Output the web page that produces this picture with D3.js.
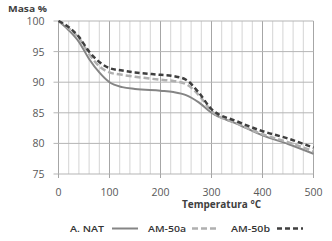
<!DOCTYPE html>
<html>
<head>
<meta charset="utf-8">
<script src="https://cdn.jsdelivr.net/npm/d3@7"></script>
<style>
  body { margin: 0; background: #fff; }
  text { font-family: "Open Sans", sans-serif; }
</style>
</head>
<body>
<div id="chart"></div>
<script>
"use strict";

// temperatures (°C) and mass (%)
var temps = [0, 20, 40, 60, 80, 100, 125, 150, 200, 225, 250, 275, 300, 350, 400, 450, 500];
var aNat  = [100, 98.5, 96.6, 93.8, 91.6, 90.0, 89.2, 88.9, 88.6, 88.4, 87.9, 86.7, 85.0, 83.2, 81.3, 79.9, 78.3];
var am50a = [100, 98.8, 97.2, 94.6, 92.6, 91.6, 91.2, 90.9, 90.4, 90.2, 89.7, 87.9, 85.3, 83.3, 81.5, 80.2, 78.7];
var am50b = [100, 99.0, 97.4, 95.0, 93.3, 92.3, 91.9, 91.6, 91.2, 91.0, 90.4, 88.3, 85.6, 83.6, 82.0, 80.8, 79.3];
var seriesNames = ["A. NAT", "AM-50a", "AM-50b"];
var xTicks = [0, 100, 200, 300, 400, 500];
var yTicks = [75, 80, 85, 90, 95, 100];

function draw() {
  var W = 332, H = 241;
  var plot = {left: 58.5, right: 313.5, top: 21, bottom: 174};

  var svg = d3.select("#chart").append("svg")
      .attr("width", W).attr("height", H);

  var x = d3.scaleLinear().domain([0, 500]).range([plot.left, plot.right]);
  var y = d3.scaleLinear().domain([75, 100]).range([plot.bottom, plot.top]);

  // vertical grid, minor every 20, darker every 100
  var g = svg.append("g");
  g.selectAll(".vgrid").data(d3.range(0, 501, 20))
    .join("line")
    .attr("x1", d => x(d)).attr("x2", d => x(d))
    .attr("y1", plot.top).attr("y2", plot.bottom)
    .attr("stroke", d => d % 100 === 0 ? "#a6a6a6" : "#d4d4d4")
    .attr("stroke-width", 1);

  // horizontal grid
  g.selectAll(".hgrid").data(yTicks)
    .join("line")
    .attr("x1", plot.left - 5).attr("x2", plot.right)
    .attr("y1", d => y(d)).attr("y2", d => y(d))
    .attr("stroke", "#b5b5b5");

  // x ticks downward
  g.selectAll(".xt").data(xTicks)
    .join("line")
    .attr("x1", d => x(d)).attr("x2", d => x(d))
    .attr("y1", plot.bottom).attr("y2", plot.bottom + 4)
    .attr("stroke", "#a6a6a6");

  // tick labels
  svg.selectAll(".yl").data(yTicks)
    .join("text")
    .attr("x", 44.5).attr("y", d => y(d) + 4)
    .attr("text-anchor", "end")
    .attr("font-size", 10.5).attr("fill", "#595959")
    .text(d => d);

  svg.selectAll(".xl").data(xTicks)
    .join("text")
    .attr("x", d => x(d)).attr("y", 195.5)
    .attr("text-anchor", "middle")
    .attr("font-size", 10.5).attr("fill", "#595959")
    .text(d => d);

  svg.append("text").attr("x", 8).attr("y", 11.5)
    .attr("font-size", 9.5).attr("font-weight", "bold").attr("fill", "#404040")
    .attr("textLength", 39).attr("lengthAdjust", "spacingAndGlyphs")
    .text("Masa %");

  svg.append("text").attr("x", 182).attr("y", 208)
    .attr("font-size", 10).attr("font-weight", "bold").attr("fill", "#404040")
    .text("Temperatura °C");

  // lines
  var styles = [
    {color: "#858585", dash: null, width: 2},
    {color: "#b0b0b0", dash: "6,3", width: 2.5},
    {color: "#3f3f3f", dash: "5,3", width: 2.5}
  ];
  var allSeries = [aNat, am50a, am50b];

  var line = d3.line()
    .x((d, i) => x(temps[i]))
    .y(d => y(d))
    .curve(d3.curveMonotoneX);

  allSeries.forEach(function(s, i) {
    svg.append("path")
      .datum(s)
      .attr("d", line)
      .attr("fill", "none")
      .attr("stroke", styles[i].color)
      .attr("stroke-width", styles[i].width)
      .attr("stroke-dasharray", styles[i].dash);
  });

  // legend
  var legX = [[70, 112, 34], [148, 192, 38], [231, 277, 39]];
  seriesNames.forEach(function(name, i) {
    svg.append("text").attr("x", legX[i][0]).attr("y", 232)
      .attr("font-size", 9.5).attr("font-weight", 600).attr("fill", "#333")
      .attr("textLength", legX[i][2]).attr("lengthAdjust", "spacingAndGlyphs")
      .text(name);
    svg.append("line")
      .attr("x1", legX[i][1]).attr("x2", legX[i][1] + 26)
      .attr("y1", 228.5).attr("y2", 228.5)
      .attr("stroke", styles[i].color)
      .attr("stroke-width", styles[i].width)
      .attr("stroke-dasharray", styles[i].dash);
  });
}

draw();
</script>
</body>
</html>
